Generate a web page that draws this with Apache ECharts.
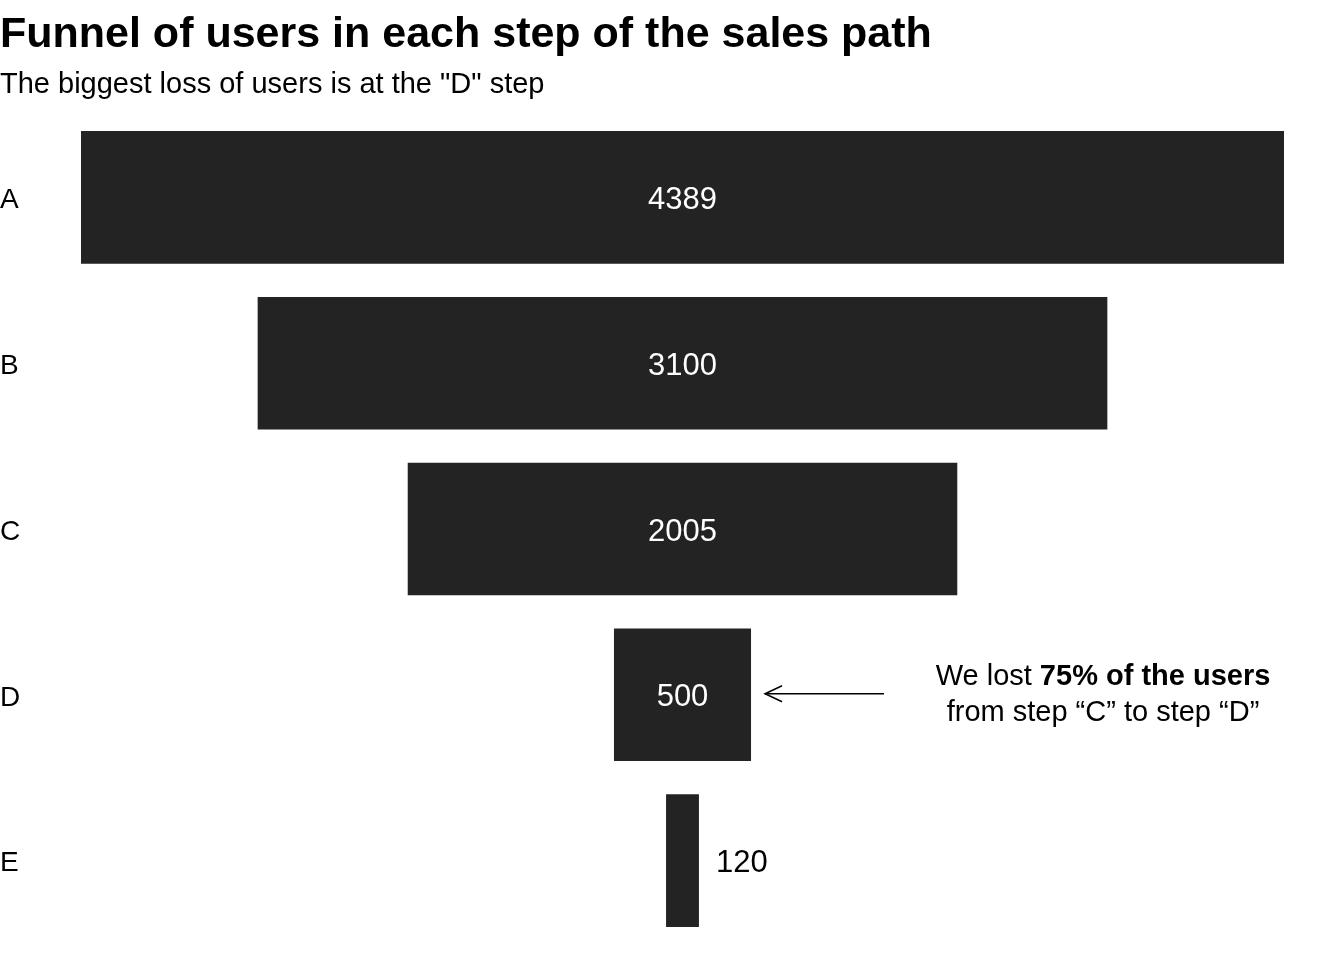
<!DOCTYPE html>
<html>
<head>
<meta charset="utf-8">
<script src="https://cdn.jsdelivr.net/npm/echarts@6/dist/echarts.min.js"></script>
<style>html,body{margin:0;padding:0;background:#fff}#c{width:1344px;height:960px}</style>
</head>
<body>
<div id="c"></div>
<script>
var categories = ['A', 'B', 'C', 'D', 'E'];
var users = [4389, 3100, 2005, 500, 120];
var maxUsers = Math.max.apply(null, users);
var offsets = users.map(function (v) { return (maxUsers - v) / 2; });

var chart = echarts.init(document.getElementById('c'));
var FONT = '"Liberation Sans", Arial, sans-serif';
chart.setOption({
  animation: false,
  backgroundColor: '#ffffff',
  title: {
    text: 'Funnel of users in each step of the sales path',
    subtext: 'The biggest loss of users is at the "D" step',
    left: 0, top: 14, padding: 0, itemGap: 13,
    textStyle: { fontFamily: FONT, fontSize: 43, fontWeight: 'bold', color: '#000' },
    subtextStyle: { fontFamily: FONT, fontSize: 29, color: '#000' }
  },
  grid: { left: 81, right: 60, top: 114.5, bottom: 16.5, containLabel: false, outerBoundsMode: 'none' },
  xAxis: { type: 'value', min: 0, max: maxUsers, show: false },
  yAxis: {
    type: 'category', data: categories, inverse: true,
    axisLine: { show: false }, axisTick: { show: false },
    axisLabel: {
      align: 'left', margin: 81, formatter: '{c|{value}}',
      rich: { c: { fontFamily: FONT, fontSize: 28, color: '#000', padding: [6, 0, 0, 0] } }
    }
  },
  series: [
    { type: 'bar', stack: 'f', data: offsets, barWidth: '80%',
      itemStyle: { color: 'transparent' }, silent: true },
    { type: 'bar', stack: 'f', barWidth: '80%',
      data: users.map(function (v, i) {
        var small = v < 300;
        return {
          value: v,
          label: small ? { position: 'right', distance: 17, color: '#000' } : { position: 'inside', color: '#fff' }
        };
      }),
      itemStyle: { color: '#232323' },
      label: { show: true, fontFamily: FONT, fontSize: 31, offset: [0, 3] }
    }
  ]
});

// annotation for step D
var dIdx = 3;
var rightEdge = chart.convertToPixel({ xAxisIndex: 0, yAxisIndex: 0 }, [offsets[dIdx] + users[dIdx], dIdx]);
var tipX = rightEdge[0] + 14, yMid = rightEdge[1] - 1;
var tailX = tipX + 119;
chart.setOption({
  graphic: [
    { type: 'line', shape: { x1: tipX, y1: yMid, x2: tailX, y2: yMid }, style: { stroke: '#000', lineWidth: 1.5 } },
    { type: 'polyline', shape: { points: [[tipX + 17, yMid - 8], [tipX, yMid], [tipX + 17, yMid + 8]] }, style: { stroke: '#000', lineWidth: 1.5, fill: null } },
    { type: 'text', x: 1103, y: yMid + 1,
      style: {
        text: '{n|We lost }{b|75% of the users}\n{n|from step \u201cC\u201d to step \u201cD\u201d}',
        align: 'center', verticalAlign: 'middle',
        rich: {
          n: { fontFamily: FONT, fontSize: 29, color: '#000', lineHeight: 36 },
          b: { fontFamily: FONT, fontSize: 29, fontWeight: 'bold', color: '#000', lineHeight: 36 }
        }
      }
    }
  ]
});
</script>
</body>
</html>
